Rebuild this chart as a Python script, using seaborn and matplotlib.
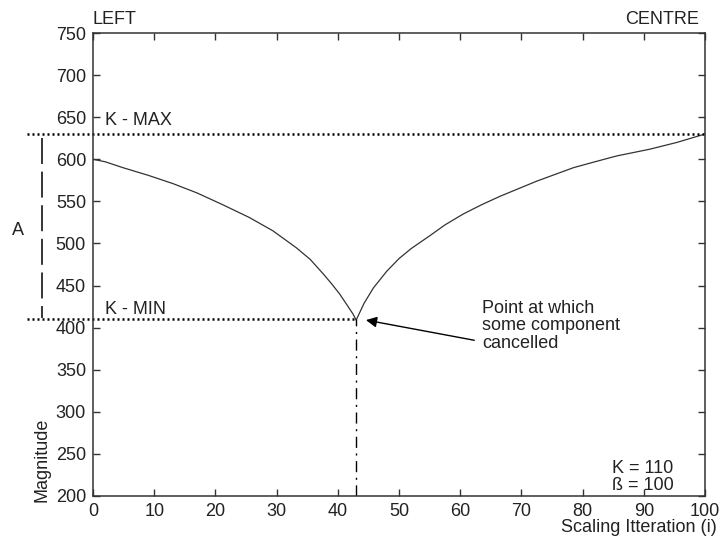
import matplotlib
matplotlib.use("Agg")
import matplotlib.pyplot as plt
import seaborn as sns
import pandas as pd

# Curve values
iteration = [0, 2, 4.9, 9, 13.1, 17, 21.2, 25.5, 29.4, 33.2, 35.5, 37.6, 39, 40.3, 41.5, 42.5, 43,
             44.3, 45.8, 48, 50, 52, 55, 57.5, 60.5, 63.5, 66.5, 69.5, 72.5, 75.5, 78.5, 82, 85.6, 91, 95.4, 100]
magnitude = [600, 597, 590, 581, 571, 560, 546, 531, 515, 495, 481, 464, 452, 440, 427, 416, 409,
             429, 447, 467, 482, 494, 509, 522, 535, 546, 556, 565, 574, 582, 590, 597, 604, 612, 620, 630]

k_max = 630
k_min = 410
cancel_at = 43
x_ticks = list(range(0, 101, 10))
y_ticks = list(range(200, 751, 50))

df = pd.DataFrame({"iteration": iteration, "magnitude": magnitude})

sns.set_style("ticks")
plt.rcParams["font.family"] = ["Liberation Sans", "DejaVu Sans"]
plt.rcParams["font.size"] = 13
txt = "#222222"

fig = plt.figure(figsize=(7.26, 5.41), dpi=100)
ax = fig.add_axes([93 / 726, 1 - 496 / 541, 612 / 726, 463 / 541])

sns.lineplot(data=df, x="iteration", y="magnitude", color="#333333", linewidth=0.9, ax=ax)

# K-MAX / K-MIN dotted lines running past the left axis
ax.plot([-10.8, 100], [k_max, k_max], color="black", linewidth=1.8,
        linestyle=(0, (0.8, 1.2)), clip_on=False)
ax.plot([-10.8, cancel_at], [k_min, k_min], color="black", linewidth=1.8,
        linestyle=(0, (0.8, 1.2)), clip_on=False)

# range marker "A"
ax.plot([-8.3, -8.3], [k_max - 5, k_min + 2], color="black", linewidth=1.1,
        linestyle=(0, (17, 5)), clip_on=False)
ax.text(-12.3, 515, "A", ha="center", va="center", color=txt)

# dash-dot drop line at the cancellation point
ax.plot([cancel_at, cancel_at], [200, k_min], color="black", linewidth=1.0,
        linestyle=(0, (8, 4, 1.5, 4)))

ax.text(1.9, 646, "K - MAX", ha="left", va="center", color=txt)
ax.text(1.9, 422, "K - MIN", ha="left", va="center", color=txt)

ax.text(63.6, 402, "Point at which\nsome component\ncancelled",
        ha="left", va="center", color=txt, linespacing=1.05)
ax.annotate("", xy=(44.6, 409), xytext=(62.3, 385),
            arrowprops=dict(arrowstyle="-|>", color="black", lw=1.0,
                            mutation_scale=16, shrinkA=0, shrinkB=0))

ax.text(84.8, 233, "K = 110", ha="left", va="center", color=txt)
ax.text(84.8, 212, "ß = 100", ha="left", va="center", color=txt)

ax.text(0.0, 1.01, "LEFT", transform=ax.transAxes, ha="left", va="bottom", color=txt)
ax.text(0.99, 1.01, "CENTRE", transform=ax.transAxes, ha="right", va="bottom", color=txt)

ax.set_xlim(0, 100)
ax.set_ylim(200, 750)
ax.set_xticks(x_ticks)
ax.set_yticks(y_ticks)
ax.set_xlabel("")
ax.set_ylabel("")
ax.text(1.02, -0.068, "Scaling Itteration (i)", transform=ax.transAxes,
        ha="right", va="center", color=txt)
ax.text(-0.083, -0.012, "Magnitude", transform=ax.transAxes, rotation=90,
        ha="center", va="bottom", color=txt)

ax.tick_params(direction="in", length=5, width=1, top=True, right=True,
               labeltop=False, labelright=False, colors="#333333",
               labelcolor=txt, pad=5)
for s in ax.spines.values():
    s.set_visible(True)
    s.set_color("#333333")
    s.set_linewidth(1.1)

fig.savefig("out.png", dpi=100)
